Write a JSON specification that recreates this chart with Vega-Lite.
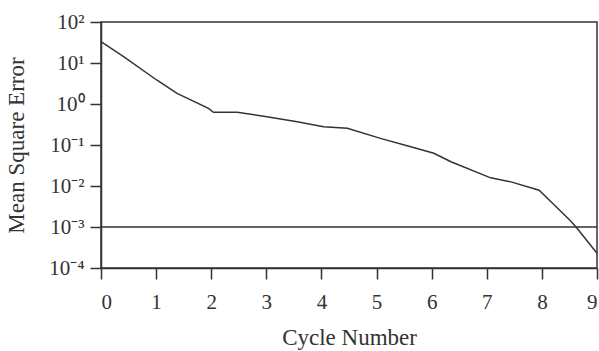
{
  "$schema": "https://vega.github.io/schema/vega-lite/v6.json",
  "width": 496,
  "height": 246,
  "autosize": "none",
  "padding": {"left": 101, "top": 22, "right": 2, "bottom": 83},
  "background": "white",
  "config": {
    "view": {"stroke": "#333", "strokeWidth": 1.5},
    "axis": {
      "domainColor": "#333",
      "tickColor": "#333",
      "labelColor": "#333",
      "titleColor": "#333",
      "labelFont": "Liberation Serif",
      "titleFont": "Liberation Serif",
      "labelFontSize": 21,
      "titleFontSize": 23,
      "titleFontWeight": "normal",
      "grid": false,
      "tickSize": 11,
      "domainWidth": 1.5,
      "tickWidth": 1.5
    }
  },
  "layer": [
    {
      "data": {
        "values": [
          {"cycle": 0, "mse": 33},
          {"cycle": 0.41, "mse": 14.3},
          {"cycle": 1.01, "mse": 3.85},
          {"cycle": 1.38, "mse": 1.82},
          {"cycle": 1.95, "mse": 0.785},
          {"cycle": 2.04, "mse": 0.63},
          {"cycle": 2.47, "mse": 0.63},
          {"cycle": 3.01, "mse": 0.49},
          {"cycle": 3.56, "mse": 0.37},
          {"cycle": 4.04, "mse": 0.28},
          {"cycle": 4.47, "mse": 0.257},
          {"cycle": 5.07, "mse": 0.145},
          {"cycle": 5.62, "mse": 0.091},
          {"cycle": 6.04, "mse": 0.063},
          {"cycle": 6.35, "mse": 0.039},
          {"cycle": 7.07, "mse": 0.0158},
          {"cycle": 7.44, "mse": 0.0126},
          {"cycle": 7.95, "mse": 0.0079},
          {"cycle": 8.16, "mse": 0.0042},
          {"cycle": 8.5, "mse": 0.0015},
          {"cycle": 8.62, "mse": 0.001},
          {"cycle": 9.0, "mse": 0.00023}
        ]
      },
      "mark": {"type": "line", "color": "#333", "strokeWidth": 1.5},
      "encoding": {
        "x": {
          "field": "cycle",
          "type": "quantitative",
          "scale": {"domain": [0, 9], "nice": false},
          "axis": {
            "values": [0, 1, 2, 3, 4, 5, 6, 7, 8, 9],
            "title": "Cycle Number",
            "labelPadding": 12,
            "titlePadding": 14
          }
        },
        "y": {
          "field": "mse",
          "type": "quantitative",
          "scale": {"type": "log", "domain": [0.0001, 100], "nice": false},
          "axis": {
            "values": [0.0001, 0.001, 0.01, 0.1, 1, 10, 100],
            "labelExpr": "'10' + ['⁻⁴','⁻³','⁻²','⁻¹','⁰','¹','²'][round(log(datum.value)/LN10)+4]",
            "title": "Mean Square Error",
            "labelPadding": 6,
            "titlePadding": 20
          }
        }
      }
    },
    {
      "data": {"values": [{"target": 0.001}]},
      "mark": {"type": "rule", "color": "#333", "strokeWidth": 1.5},
      "encoding": {"y": {"field": "target", "type": "quantitative"}}
    }
  ]
}
